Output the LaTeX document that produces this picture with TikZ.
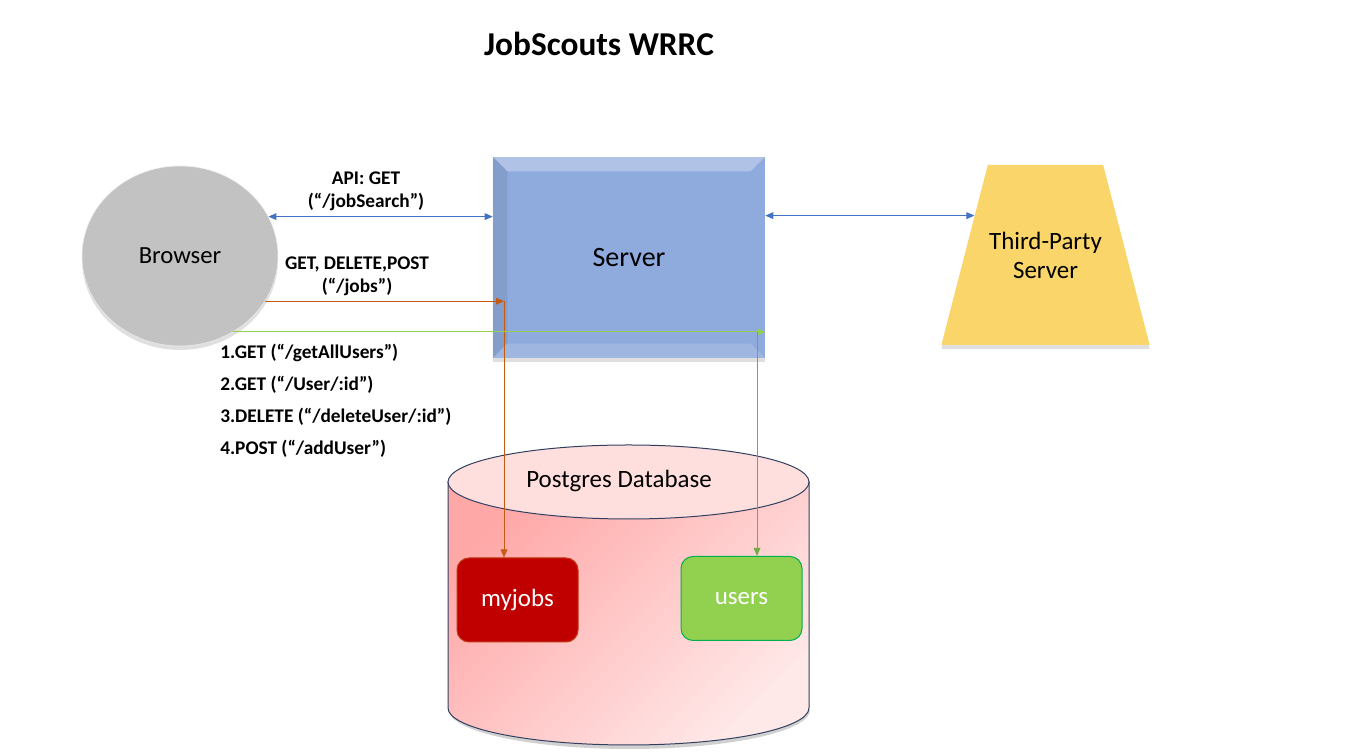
\documentclass[tikz,border=0pt]{standalone}
\usepackage{fontspec}
\setmainfont{Carlito}
\usetikzlibrary{positioning,shapes.geometric,arrows.meta,shadows}
\definecolor{srvblue}{RGB}{143,170,220}
\definecolor{lnblue}{RGB}{68,114,196}
\definecolor{lnorange}{RGB}{197,90,17}
\definecolor{lngreen}{RGB}{146,208,80}
\definecolor{lngreenB}{RGB}{112,173,71}
\definecolor{tpyellow}{RGB}{250,213,105}
\definecolor{jobred}{RGB}{192,0,0}
\definecolor{usrgreen}{RGB}{146,208,80}
\definecolor{usrline}{RGB}{0,176,80}
\definecolor{dbpinkA}{RGB}{255,168,168}
\definecolor{dbpinkB}{RGB}{255,232,232}
\definecolor{dbtop}{RGB}{255,222,222}
\definecolor{dbline}{RGB}{50,64,96}
\definecolor{brwA}{RGB}{194,194,194}
\definecolor{brwB}{RGB}{238,238,238}
\pgfdeclareradialshading{ball}{\pgfpoint{0bp}{0bp}}{color(0bp)=(brwA); color(36bp)=(brwA); color(50bp)=(brwB)}
\tikzset{
  shade box/.style={drop shadow={shadow xshift=0pt,shadow yshift=-3pt,opacity=.25}},
  big/.style={font=\fontsize{18.7}{21.75}\selectfont, align=center},
  lbl/.style={font=\fontsize{14.5}{17.5}\selectfont\bfseries, align=center, inner sep=0pt},
  table node/.style={rectangle, rounded corners=9pt, minimum width=90.75pt, minimum height=63pt, text=white, big, line width=0.75pt},
  link/.style={line width=0.75pt, -{Triangle[length=6pt,width=5pt]}},
  dlink/.style={line width=0.75pt, {Triangle[length=6pt,width=5pt]}-{Triangle[length=6pt,width=5pt]}},
}
\newcommand{\conn}[3]{\draw[#1] (#2) -- (#3);}

\begin{document}
\begin{tikzpicture}[x=0.75pt,y=0.75pt]
        \useasboundingbox[fill=white] (0,0) rectangle (1346,752);
        \node[font=\fontsize{25}{30}\selectfont\bfseries] (ttl) at (599,708) {JobScouts WRRC};

        % database cylinder
        \fill[black,opacity=.18] (449,42) arc[start angle=180,end angle=360,x radius=180.5,y radius=39];
        \path[top color=dbpinkA, bottom color=dbpinkB, shading angle=45, draw=dbline, line width=0.75pt]
            (448,270) -- (448,44) arc[start angle=180,end angle=360,x radius=180.5,y radius=37] -- (809,270) -- cycle;
        \draw[fill=dbtop, draw=dbline, line width=0.75pt] (628.5,270) ellipse[x radius=180.5,y radius=37];
        \node[big] (db) at (619,271) {Postgres Database};

        \node[table node, fill=jobred, draw=lnorange!60!jobred] (myj) at (517.5,152) {myjobs};
        \node[table node, fill=usrgreen, draw=usrline] (usr) at (741.5,153.5) {users};

        % browser, server, third party
        \node[ellipse, minimum width=147pt, minimum height=135pt, shading=ball, draw=brwB, shade box, big, font=\fontsize{18.5}{21}\selectfont] (brw) at (180,496) {Browser};
        \node[rectangle, minimum width=204pt, minimum height=150.75pt, fill=srvblue, shade box, font=\fontsize{21}{24}\selectfont] (srv) at (629,494.5) {Server};
        \fill[white,opacity=.3] (srv.north west) -- (srv.north east) -- ([shift={(-11pt,-11pt)}]srv.north east) -- ([shift={(11pt,-11pt)}]srv.north west) -- cycle;
        \fill[black,opacity=.07] (srv.north west) -- ([shift={(11pt,-11pt)}]srv.north west) -- ([shift={(11pt,11pt)}]srv.south west) -- (srv.south west) -- cycle;
        \fill[white,opacity=.15] (srv.south west) -- ([shift={(11pt,11pt)}]srv.south west) -- ([shift={(-11pt,11pt)}]srv.south east) -- (srv.south east) -- cycle;
        \node[trapezium, trapezium stretches body, trapezium angle=50, inner xsep=1pt, minimum width=150pt, minimum height=135pt, fill=tpyellow, shade box, big] (tp) at (1045.5,497) {Third-Party\\Server};

        % labels
        \node[lbl] (api) at (366,560.5) {API: GET\\(“/jobSearch”)};
        \node[lbl] (jobs) at (357,475.5) {GET, DELETE,POST\\(“/jobs”)};
        \foreach \t [count=\i] in {1.GET (“/getAllUsers”), 2.GET (“/User/:id”), 3.DELETE (“/deleteUser/:id”), 4.POST (“/addUser”)}
            \node[lbl, anchor=west] (q\i) at (220,{399-32*(\i-1)}) {\t};

        % connectors
        \coordinate (jt) at (504,451);
        \coordinate (ut) at (757,420);
        \conn{dlink, lnblue}{brw.24}{srv.west |- brw.24}
        \conn{dlink, lnblue}{srv.east |- tp.151}{tp.151}
        \conn{link, lnorange}{brw.-28}{brw.-28 -| jt}
        \conn{link, lnorange}{jt}{jt |- myj.north}
        \conn{link, lngreen}{brw.-55}{brw.-55 -| srv.east}
        \conn{link, lngreenB}{ut}{ut |- usr.north}
    \end{tikzpicture}
\end{document}
